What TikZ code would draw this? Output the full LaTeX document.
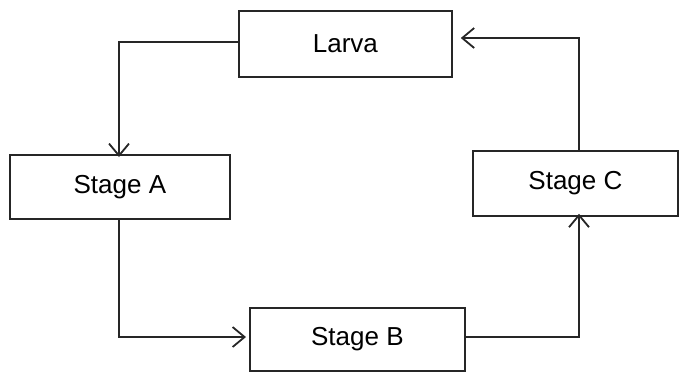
\documentclass[tikz,border=0pt]{standalone}
\usepackage{fontspec}
\setmainfont{Liberation Sans}
\usetikzlibrary{arrows.meta}
\begin{document}
\begin{tikzpicture}[x=1pt,y=-1pt,
  stagebox/.style={draw=black!85,line width=1.8pt,inner sep=0pt,anchor=north west,font=\fontsize{26}{30}\selectfont},
  flow/.style={draw=black!85,line width=1.8pt,-{Straight Barb[length=12pt,width=20pt,line width=1.8pt]}}]
\useasboundingbox (0,0) rectangle (680,376);
\node[stagebox,minimum width=213pt,minimum height=66pt] (larva) at (238,10) {Larva};
\node[stagebox,minimum width=220pt,minimum height=64pt] (a) at (9,154) {Stage A};
\node[stagebox,minimum width=205pt,minimum height=65pt] (c) at (472,150) {Stage C};
\node[stagebox,minimum width=215pt,minimum height=63pt] (b) at (249,307) {Stage B};
\draw[flow] (larva.west |- 0,42) -| ([yshift=-3pt]a.north -| 119,0);
\draw[flow] (a.south -| 119,0) |- ([xshift=-3pt]b.west |- 0,337);
\draw[flow] (b.east |- 0,337) -| ([yshift=3pt]c.south -| 579,0);
\draw[flow] (c.north -| 579,0) |- ([xshift=8pt]larva.east |- 0,38);
\end{tikzpicture}
\end{document}
